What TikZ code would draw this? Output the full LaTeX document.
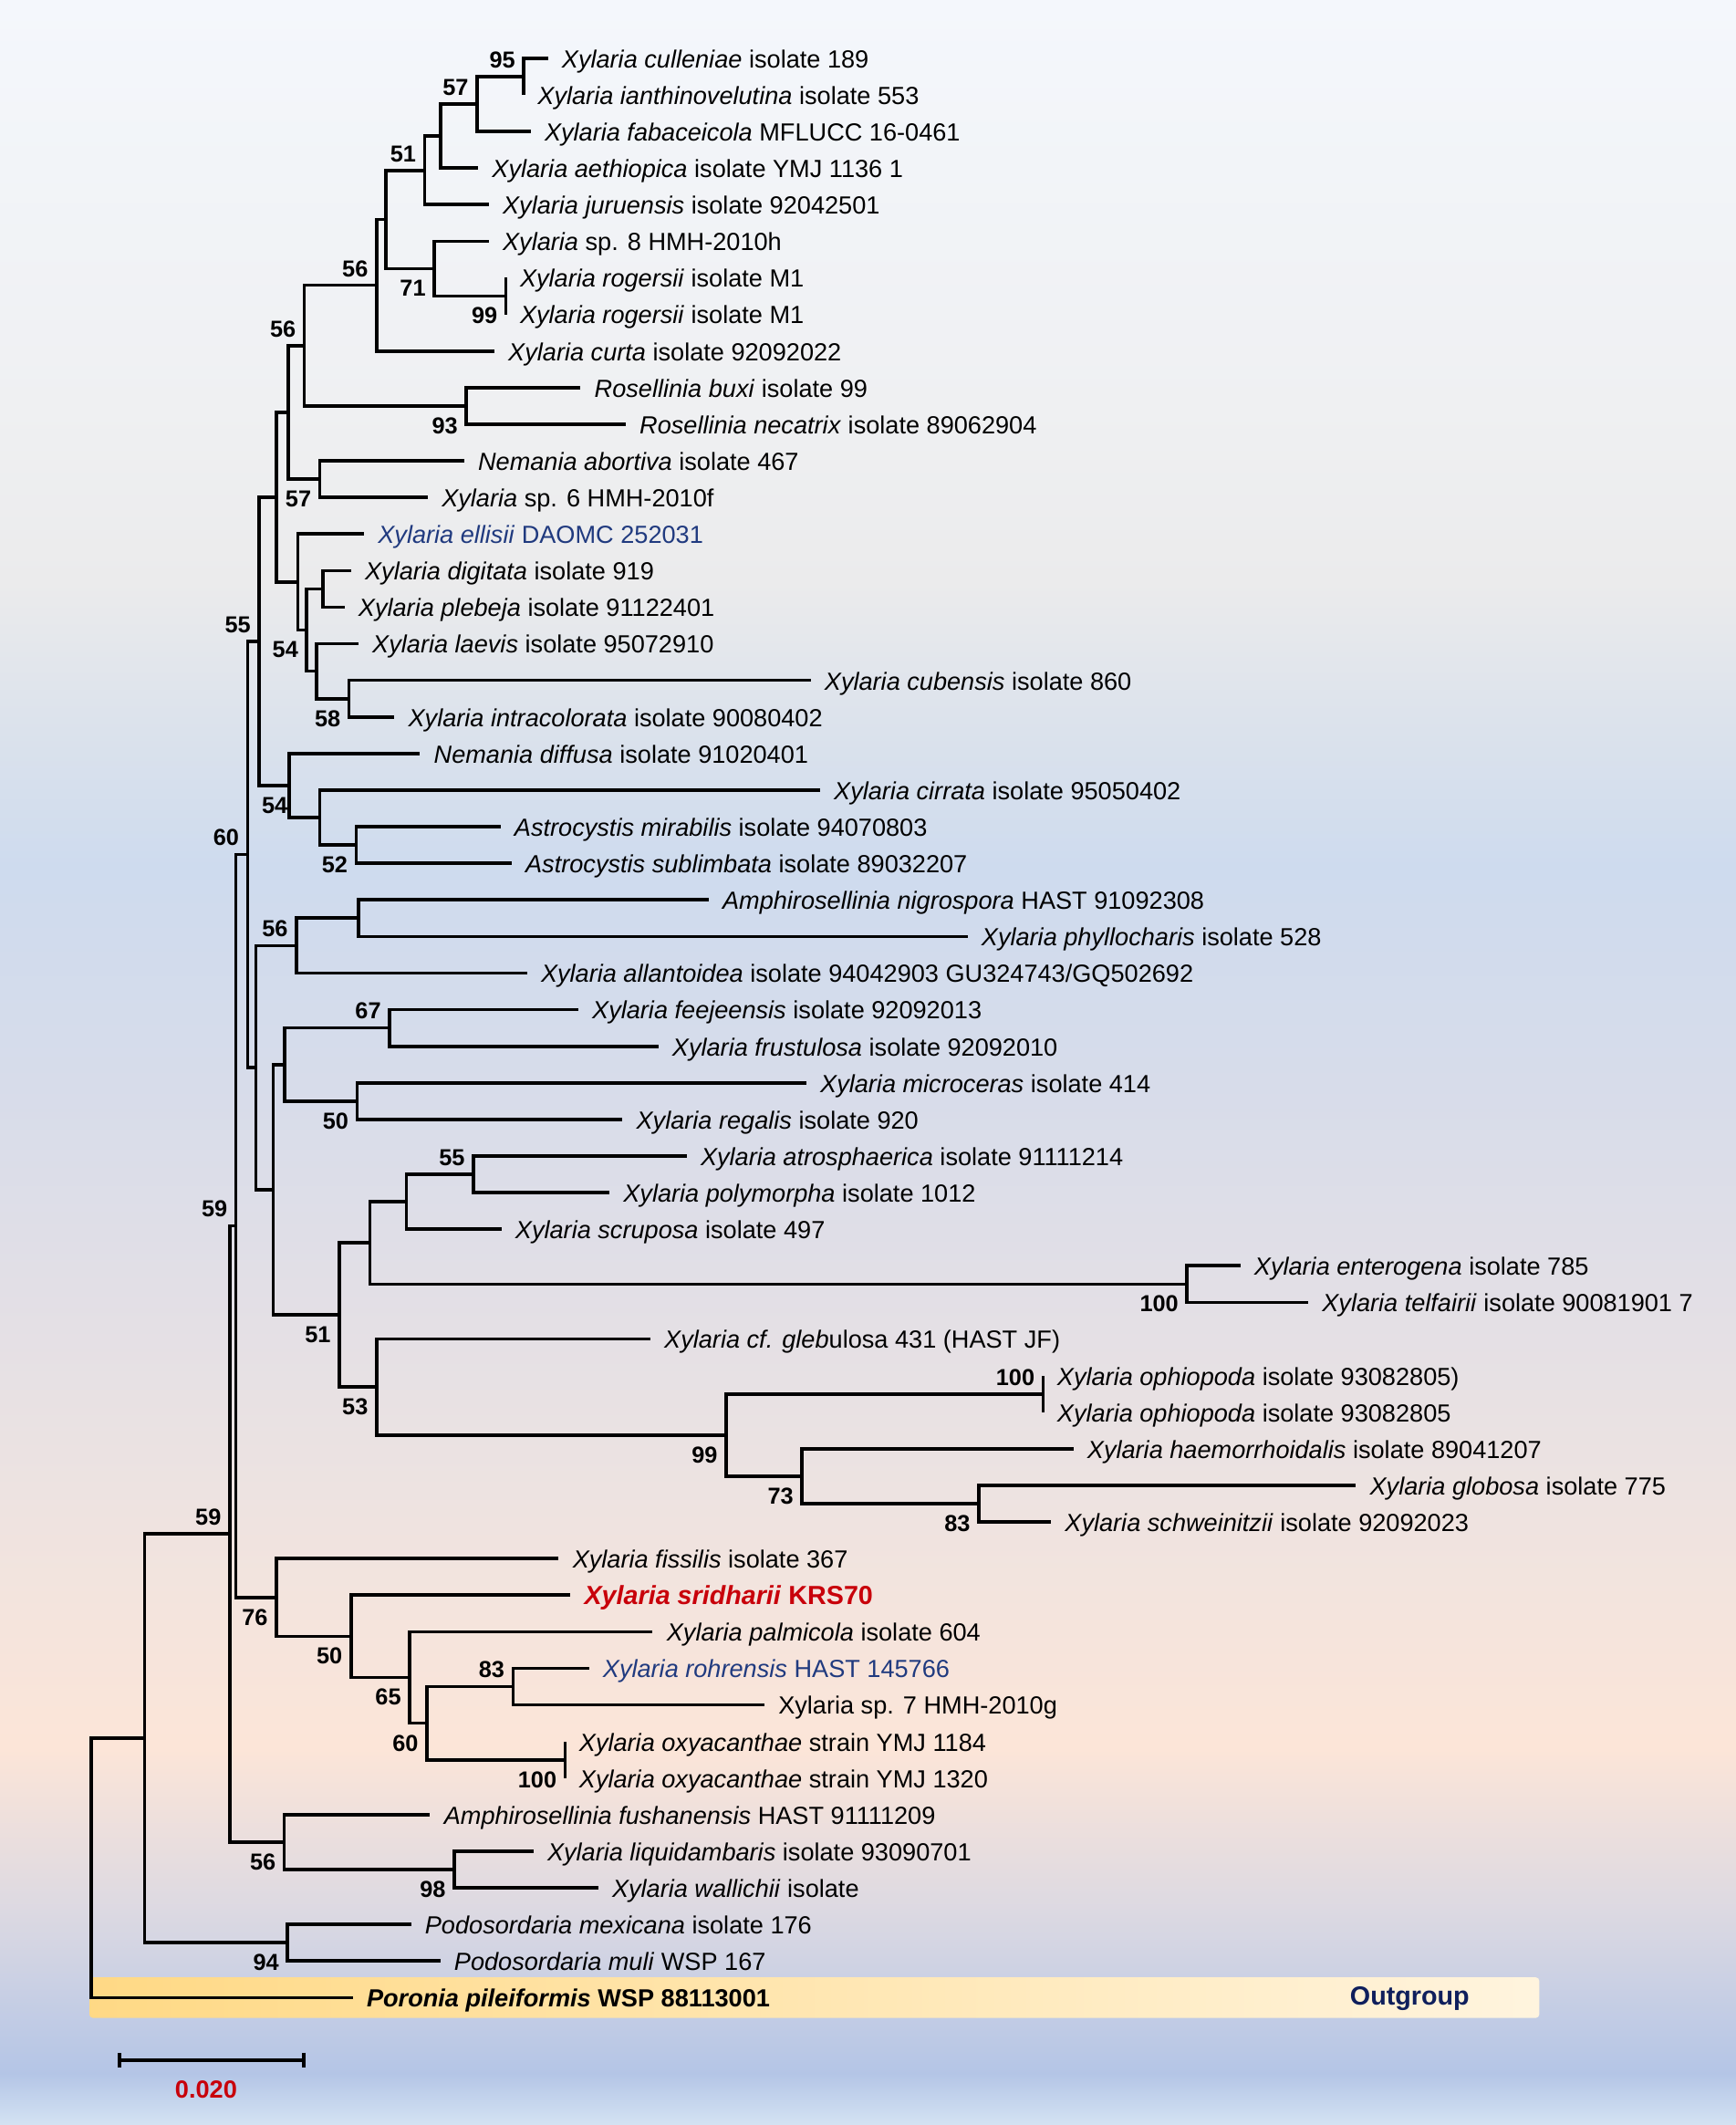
\documentclass[tikz,border=0pt]{standalone}
\usepackage{fontspec}
\setmainfont{Liberation Sans}
\usetikzlibrary{arrows.meta}

\definecolor{bgA}{HTML}{F4F7FC}
\definecolor{bgB}{HTML}{EFF0F2}
\definecolor{bgC}{HTML}{EBEBEC}
\definecolor{bgD}{HTML}{DBE2EC}
\definecolor{bgE}{HTML}{CEDBEE}
\definecolor{bgF}{HTML}{D7DCEA}
\definecolor{bgG}{HTML}{E2DFE6}
\definecolor{bgH}{HTML}{EDE3E1}
\definecolor{bgI}{HTML}{FCE5D8}
\definecolor{bgJ}{HTML}{DCD9E2}
\definecolor{bgK}{HTML}{B4C5E6}
\definecolor{bgL}{HTML}{D4E3F3}
\definecolor{barL}{HTML}{FFD985}
\definecolor{barR}{HTML}{FFF4DE}
\definecolor{typeblue}{HTML}{203A7F}
\definecolor{newred}{HTML}{C8000A}
\definecolor{navy}{HTML}{0F1F5C}

\pgfdeclareverticalshading{bgshade}{100bp}{color(0bp)=(bgL); color(25bp)=(bgL);
  color(26.21bp)=(bgK); color(30.04bp)=(bgJ); color(33.86bp)=(bgI);
  color(39.92bp)=(bgH); color(44.71bp)=(bgG); color(49.49bp)=(bgF);
  color(54.6bp)=(bgE); color(57.8bp)=(bgD); color(61.29bp)=(bgC);
  color(65.43bp)=(bgB); color(75bp)=(bgA); color(100bp)=(bgA)}

\begin{document}
\begin{tikzpicture}[x=0.02cm, y=-0.02cm,
  branch/.style={line width=1.4pt},
  leaf/.style={anchor=base west, inner sep=0pt, xshift=0.2cm, yshift=-0.14cm,
    font=\fontsize{10.4}{12}\selectfont},
  bsu/.style={anchor=base east, inner sep=0pt, xshift=-0.12cm, yshift=0.13cm,
    font=\fontsize{9.7}{11}\selectfont\bfseries},
  bsd/.style={anchor=base east, inner sep=0pt, xshift=-0.12cm, yshift=-0.41cm,
    font=\fontsize{9.7}{11}\selectfont\bfseries}]
  \useasboundingbox (0,0) rectangle (1281,1568);
  \shade[shading=bgshade] (0,0) rectangle (1281,1568);
  \shade[left color=barL, right color=barR, rounded corners=1.5pt] (66,1459) rectangle (1136,1489);

  % tips
  \coordinate (cul) at (404.3,43);
  \coordinate (ian) at (386.5,70);
  \coordinate (fab) at (391.6,97);
  \coordinate (aet) at (352.8,124);
  \coordinate (jur) at (360.7,151);
  \coordinate (sp8) at (360.7,178);
  \coordinate (rog1) at (373.4,205);
  \coordinate (rog2) at (373.4,232);
  \coordinate (cur) at (364.8,259);
  \coordinate (bux) at (428.4,286);
  \coordinate (nec) at (461.7,313);
  \coordinate (abo) at (342.5,340);
  \coordinate (sp6) at (315.7,367);
  \coordinate (ell) at (268.6,394);
  \coordinate (dig) at (259,421);
  \coordinate (ple) at (254.2,448);
  \coordinate (lae) at (264.5,475);
  \coordinate (cub) at (598.2,502);
  \coordinate (intr) at (291,529);
  \coordinate (dif) at (309.9,556);
  \coordinate (cir) at (605.1,583);
  \coordinate (mir) at (369.3,610);
  \coordinate (sub) at (377.5,637);
  \coordinate (nig) at (522.9,664);
  \coordinate (phy) at (714,691);
  \coordinate (all) at (388.9,718);
  \coordinate (fee) at (426.7,745);
  \coordinate (fru) at (485.8,772);
  \coordinate (mic) at (595,799);
  \coordinate (reg) at (459.3,826);
  \coordinate (atr) at (506.7,853);
  \coordinate (pol) at (449.7,880);
  \coordinate (scr) at (370,907);
  \coordinate (ent) at (915.3,934);
  \coordinate (tel) at (965.4,961);
  \coordinate (gle) at (479.9,988);
  \coordinate (oph1) at (769.9,1015);
  \coordinate (oph2) at (769.9,1042);
  \coordinate (hae) at (792.1,1069);
  \coordinate (glo) at (1000.6,1096);
  \coordinate (sch) at (775.6,1123);
  \coordinate (fis) at (412.3,1150);
  \coordinate (sri) at (420.9,1177);
  \coordinate (pal) at (481.7,1204);
  \coordinate (roh) at (434.6,1231);
  \coordinate (sp7) at (564.1,1258);
  \coordinate (oxy1) at (417.1,1285);
  \coordinate (oxy2) at (417.1,1312);
  \coordinate (fus) at (317.4,1339);
  \coordinate (liq) at (393.6,1366);
  \coordinate (wal) at (441.4,1393);
  \coordinate (mex) at (303.3,1420);
  \coordinate (mul) at (324.9,1447);
  \coordinate (por) at (260.3,1474);

  % internal nodes
  \coordinate (n1) at (386.5,56.5);
  \coordinate (n2) at (352.1,76.75);
  \coordinate (n3) at (325.3,100.4);
  \coordinate (n4) at (313.3,125.7);
  \coordinate (n5) at (373.4,218.5);
  \coordinate (n6) at (320.5,198.25);
  \coordinate (n7) at (284.8,162);
  \coordinate (n8) at (277.9,210.5);
  \coordinate (n9) at (344.2,299.5);
  \coordinate (n10) at (224.6,255);
  \coordinate (n11) at (236,353.5);
  \coordinate (n12) at (212.6,304.25);
  \coordinate (n13) at (238.4,434.5);
  \coordinate (n14) at (257.6,515.5);
  \coordinate (n15) at (233.6,495.25);
  \coordinate (n16) at (226.4,464.9);
  \coordinate (n17) at (219.8,429.4);
  \coordinate (n18) at (204,366.8);
  \coordinate (n19) at (262.8,623.5);
  \coordinate (n20) at (236,603.25);
  \coordinate (n21) at (213.6,579.6);
  \coordinate (n22) at (191.3,473.2);
  \coordinate (n23) at (264.5,677.5);
  \coordinate (n24) at (218.8,697.75);
  \coordinate (n25) at (287.5,758.5);
  \coordinate (n26) at (263.5,812.5);
  \coordinate (n27) at (210.2,785.5);
  \coordinate (n28) at (349.4,866.5);
  \coordinate (n29) at (299.9,886.75);
  \coordinate (n30) at (876,947.5);
  \coordinate (n31) at (273.1,917.1);
  \coordinate (n32) at (769.9,1028.5);
  \coordinate (n33) at (722.3,1109.5);
  \coordinate (n34) at (591.9,1089.25);
  \coordinate (n35) at (535.9,1058.9);
  \coordinate (n36) at (277.9,1023.4);
  \coordinate (n37) at (250.4,970.3);
  \coordinate (n38) at (201.6,877.9);
  \coordinate (n39) at (188.9,787.8);
  \coordinate (n40) at (182.7,630.5);
  \coordinate (n41) at (378.6,1244.5);
  \coordinate (n42) at (417.1,1298.5);
  \coordinate (n43) at (315,1271.5);
  \coordinate (n44) at (302.3,1237.75);
  \coordinate (n45) at (259,1207.4);
  \coordinate (n46) at (204,1178.7);
  \coordinate (n47) at (174.1,904.6);
  \coordinate (n48) at (335.2,1379.5);
  \coordinate (n49) at (209.8,1359.25);
  \coordinate (n50) at (169.5,1131.9);
  \coordinate (n51) at (212.2,1433.5);
  \coordinate (n52) at (106.7,1282.7);
  \coordinate (root) at (67.4,1378.4);

  % branches
  \draw[branch] (n1) |- (cul) (n1) |- (ian);
  \draw[branch] (n2) |- (n1) (n2) |- (fab);
  \draw[branch] (n3) |- (n2) (n3) |- (aet);
  \draw[branch] (n4) |- (n3) (n4) |- (jur);
  \draw[branch] (n5) |- (rog1) (n5) |- (rog2);
  \draw[branch] (n6) |- (sp8) (n6) |- (n5);
  \draw[branch] (n7) |- (n4) (n7) |- (n6);
  \draw[branch] (n8) |- (n7) (n8) |- (cur);
  \draw[branch] (n9) |- (bux) (n9) |- (nec);
  \draw[branch] (n10) |- (n8) (n10) |- (n9);
  \draw[branch] (n11) |- (abo) (n11) |- (sp6);
  \draw[branch] (n12) |- (n10) (n12) |- (n11);
  \draw[branch] (n13) |- (dig) (n13) |- (ple);
  \draw[branch] (n14) |- (cub) (n14) |- (intr);
  \draw[branch] (n15) |- (lae) (n15) |- (n14);
  \draw[branch] (n16) |- (n13) (n16) |- (n15);
  \draw[branch] (n17) |- (ell) (n17) |- (n16);
  \draw[branch] (n18) |- (n12) (n18) |- (n17);
  \draw[branch] (n19) |- (mir) (n19) |- (sub);
  \draw[branch] (n20) |- (cir) (n20) |- (n19);
  \draw[branch] (n21) |- (dif) (n21) |- (n20);
  \draw[branch] (n22) |- (n18) (n22) |- (n21);
  \draw[branch] (n23) |- (nig) (n23) |- (phy);
  \draw[branch] (n24) |- (n23) (n24) |- (all);
  \draw[branch] (n25) |- (fee) (n25) |- (fru);
  \draw[branch] (n26) |- (mic) (n26) |- (reg);
  \draw[branch] (n27) |- (n25) (n27) |- (n26);
  \draw[branch] (n28) |- (atr) (n28) |- (pol);
  \draw[branch] (n29) |- (n28) (n29) |- (scr);
  \draw[branch] (n30) |- (ent) (n30) |- (tel);
  \draw[branch] (n31) |- (n29) (n31) |- (n30);
  \draw[branch] (n32) |- (oph1) (n32) |- (oph2);
  \draw[branch] (n33) |- (glo) (n33) |- (sch);
  \draw[branch] (n34) |- (hae) (n34) |- (n33);
  \draw[branch] (n35) |- (n32) (n35) |- (n34);
  \draw[branch] (n36) |- (gle) (n36) |- (n35);
  \draw[branch] (n37) |- (n31) (n37) |- (n36);
  \draw[branch] (n38) |- (n27) (n38) |- (n37);
  \draw[branch] (n39) |- (n24) (n39) |- (n38);
  \draw[branch] (n40) |- (n22) (n40) |- (n39);
  \draw[branch] (n41) |- (roh) (n41) |- (sp7);
  \draw[branch] (n42) |- (oxy1) (n42) |- (oxy2);
  \draw[branch] (n43) |- (n41) (n43) |- (n42);
  \draw[branch] (n44) |- (pal) (n44) |- (n43);
  \draw[branch] (n45) |- (sri) (n45) |- (n44);
  \draw[branch] (n46) |- (fis) (n46) |- (n45);
  \draw[branch] (n47) |- (n40) (n47) |- (n46);
  \draw[branch] (n48) |- (liq) (n48) |- (wal);
  \draw[branch] (n49) |- (fus) (n49) |- (n48);
  \draw[branch] (n50) |- (n47) (n50) |- (n49);
  \draw[branch] (n51) |- (mex) (n51) |- (mul);
  \draw[branch] (n52) |- (n50) (n52) |- (n51);
  \draw[branch] (root) |- (n52) (root) |- (por);

  % taxa
  \node[leaf] (tcul) at (cul) {\textit{Xylaria culleniae} isolate 189};
  \node[leaf] (tian) at (ian) {\textit{Xylaria ianthinovelutina} isolate 553};
  \node[leaf] (tfab) at (fab) {\textit{Xylaria fabaceicola} MFLUCC 16-0461};
  \node[leaf] (taet) at (aet) {\textit{Xylaria aethiopica} isolate YMJ 1136 1};
  \node[leaf] (tjur) at (jur) {\textit{Xylaria juruensis} isolate 92042501};
  \node[leaf] (tsp8) at (sp8) {\textit{Xylaria} sp. 8 HMH-2010h};
  \node[leaf] (trog1) at (rog1) {\textit{Xylaria rogersii} isolate M1};
  \node[leaf] (trog2) at (rog2) {\textit{Xylaria rogersii} isolate M1};
  \node[leaf] (tcur) at (cur) {\textit{Xylaria curta} isolate 92092022};
  \node[leaf] (tbux) at (bux) {\textit{Rosellinia buxi} isolate 99};
  \node[leaf] (tnec) at (nec) {\textit{Rosellinia necatrix} isolate 89062904};
  \node[leaf] (tabo) at (abo) {\textit{Nemania abortiva} isolate 467};
  \node[leaf] (tsp6) at (sp6) {\textit{Xylaria} sp. 6 HMH-2010f};
  \node[leaf, text=typeblue] (tell) at (ell) {\textit{Xylaria ellisii} DAOMC 252031};
  \node[leaf] (tdig) at (dig) {\textit{Xylaria digitata} isolate 919};
  \node[leaf] (tple) at (ple) {\textit{Xylaria plebeja} isolate 91122401};
  \node[leaf] (tlae) at (lae) {\textit{Xylaria laevis} isolate 95072910};
  \node[leaf] (tcub) at (cub) {\textit{Xylaria cubensis} isolate 860};
  \node[leaf] (tintr) at (intr) {\textit{Xylaria intracolorata} isolate 90080402};
  \node[leaf] (tdif) at (dif) {\textit{Nemania diffusa} isolate 91020401};
  \node[leaf] (tcir) at (cir) {\textit{Xylaria cirrata} isolate 95050402};
  \node[leaf] (tmir) at (mir) {\textit{Astrocystis mirabilis} isolate 94070803};
  \node[leaf] (tsub) at (sub) {\textit{Astrocystis sublimbata} isolate 89032207};
  \node[leaf] (tnig) at (nig) {\textit{Amphirosellinia nigrospora} HAST 91092308};
  \node[leaf] (tphy) at (phy) {\textit{Xylaria phyllocharis} isolate 528};
  \node[leaf] (tall) at (all) {\textit{Xylaria allantoidea} isolate 94042903 GU324743/GQ502692};
  \node[leaf] (tfee) at (fee) {\textit{Xylaria feejeensis} isolate 92092013};
  \node[leaf] (tfru) at (fru) {\textit{Xylaria frustulosa} isolate 92092010};
  \node[leaf] (tmic) at (mic) {\textit{Xylaria microceras} isolate 414};
  \node[leaf] (treg) at (reg) {\textit{Xylaria regalis} isolate 920};
  \node[leaf] (tatr) at (atr) {\textit{Xylaria atrosphaerica} isolate 91111214};
  \node[leaf] (tpol) at (pol) {\textit{Xylaria polymorpha} isolate 1012};
  \node[leaf] (tscr) at (scr) {\textit{Xylaria scruposa} isolate 497};
  \node[leaf] (tent) at (ent) {\textit{Xylaria enterogena} isolate 785};
  \node[leaf] (ttel) at (tel) {\textit{Xylaria telfairii} isolate 90081901 7};
  \node[leaf] (tgle) at (gle) {\textit{Xylaria cf. gleb}ulosa 431 (HAST JF)};
  \node[leaf] (toph1) at (oph1) {\textit{Xylaria ophiopoda} isolate 93082805)};
  \node[leaf] (toph2) at (oph2) {\textit{Xylaria ophiopoda} isolate 93082805};
  \node[leaf] (thae) at (hae) {\textit{Xylaria haemorrhoidalis} isolate 89041207};
  \node[leaf] (tglo) at (glo) {\textit{Xylaria globosa} isolate 775};
  \node[leaf] (tsch) at (sch) {\textit{Xylaria schweinitzii} isolate 92092023};
  \node[leaf] (tfis) at (fis) {\textit{Xylaria fissilis} isolate 367};
  \node[leaf, text=newred, font=\fontsize{11}{13}\selectfont\bfseries] (tsri) at (sri) {\textit{Xylaria sridharii} KRS70};
  \node[leaf] (tpal) at (pal) {\textit{Xylaria palmicola} isolate 604};
  \node[leaf, text=typeblue] (troh) at (roh) {\textit{Xylaria rohrensis} HAST 145766};
  \node[leaf] (tsp7) at (sp7) {Xylaria sp. 7 HMH-2010g};
  \node[leaf] (toxy1) at (oxy1) {\textit{Xylaria oxyacanthae} strain YMJ 1184};
  \node[leaf] (toxy2) at (oxy2) {\textit{Xylaria oxyacanthae} strain YMJ 1320};
  \node[leaf] (tfus) at (fus) {\textit{Amphirosellinia fushanensis} HAST 91111209};
  \node[leaf] (tliq) at (liq) {\textit{Xylaria liquidambaris} isolate 93090701};
  \node[leaf] (twal) at (wal) {\textit{Xylaria wallichii} isolate};
  \node[leaf] (tmex) at (mex) {\textit{Podosordaria mexicana} isolate 176};
  \node[leaf] (tmul) at (mul) {\textit{Podosordaria muli} WSP 167};
  \node[leaf, font=\fontsize{10.4}{12}\selectfont\bfseries] (tpor) at (por) {\textit{Poronia pileiformis} WSP 88113001};

  % bootstrap values
  \node[bsu] (b1) at (n1) {95};
  \node[bsu] (b2) at (n2) {57};
  \node[bsu] (b4) at (n4) {51};
  \node[bsd] (b5) at (n5) {99};
  \node[bsd] (b6) at (n6) {71};
  \node[bsu] (b8) at (n8) {56};
  \node[bsd] (b9) at (n9) {93};
  \node[bsu] (b10) at (n10) {56};
  \node[bsd] (b11) at (n11) {57};
  \node[bsd] (b14) at (n14) {58};
  \node[bsd] (b16) at (n16) {54};
  \node[bsd] (b19) at (n19) {52};
  \node[bsd, xshift=0.1cm] (b21) at (n21) {54};
  \node[bsu] (b22) at (n22) {55};
  \node[bsu] (b24) at (n24) {56};
  \node[bsu] (b25) at (n25) {67};
  \node[bsd] (b26) at (n26) {50};
  \node[bsu] (b28) at (n28) {55};
  \node[bsd] (b30) at (n30) {100};
  \node[bsu] (b32) at (n32) {100};
  \node[bsd] (b33) at (n33) {83};
  \node[bsd] (b34) at (n34) {73};
  \node[bsd] (b35) at (n35) {99};
  \node[bsd] (b36) at (n36) {53};
  \node[bsd] (b37) at (n37) {51};
  \node[bsu] (b40) at (n40) {60};
  \node[bsu] (b41) at (n41) {83};
  \node[bsd] (b42) at (n42) {100};
  \node[bsd] (b43) at (n43) {60};
  \node[bsd] (b44) at (n44) {65};
  \node[bsd] (b45) at (n45) {50};
  \node[bsd] (b46) at (n46) {76};
  \node[bsu] (b47) at (n47) {59};
  \node[bsd] (b48) at (n48) {98};
  \node[bsd] (b49) at (n49) {56};
  \node[bsu] (b50) at (n50) {59};
  \node[bsd] (b51) at (n51) {94};

  % outgroup and scale
  \node[font=\fontsize{11}{13}\selectfont\bfseries, text=navy] (og) at (1040.4,1474.5) {Outgroup};
  \coordinate (sbl) at (86.8,1520);
  \coordinate (sbr) at (225.3,1520);
  \draw[branch, {Bar[width=0.22cm]}-{Bar[width=0.22cm]}] (sbl) -- (sbr);
  \node[font=\fontsize{10.4}{12}\selectfont\bfseries, text=newred] (sbt) at (152.1,1541.7) {0.020};
\end{tikzpicture}
\end{document}
